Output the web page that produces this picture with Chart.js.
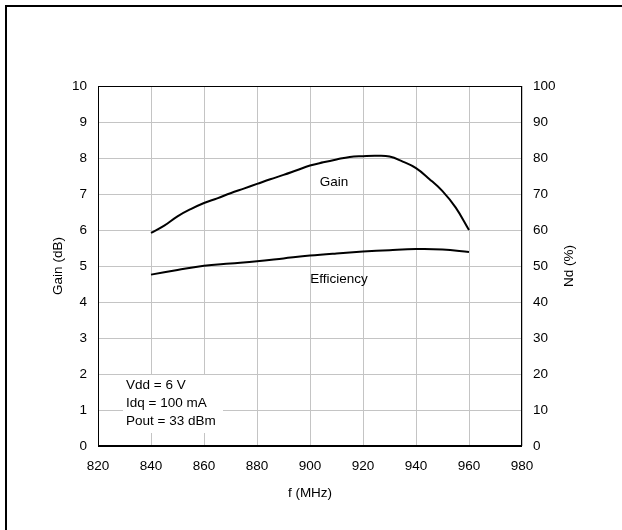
<!DOCTYPE html>
<html lang="en">
<head>
    <meta charset="UTF-8">
    <title>Gain and Efficiency vs Frequency</title>
    <script src="https://cdn.jsdelivr.net/npm/chart.js"></script>
    <style>
        body { margin: 0; background: #fff; }
        #wrap { position: relative; width: 622px; height: 530px; }
        #frame { position: absolute; left: 5px; top: 5px; right: 0; bottom: 0;
                 border-top: 2px solid #000; border-left: 2px solid #000; pointer-events: none; }
        canvas { position: absolute; left: 0; top: 0; }
    </style>
</head>
<body>
    <div id="wrap">
        <canvas id="gainChart" width="622" height="530"></canvas>
        <div id="frame"></div>
    </div>
    <script>
        // frequency in MHz
        const gainFreq = [840, 845, 850, 855, 860, 865, 870, 875, 880, 885, 890, 895, 900,
                          905, 910, 915, 920, 925, 930, 935, 940, 945, 950, 955, 960];
        const gainDb = [5.92, 6.12, 6.38, 6.58, 6.75, 6.88, 7.02, 7.15, 7.28, 7.41, 7.53, 7.66, 7.79,
                        7.88, 7.96, 8.03, 8.05, 8.06, 8.04, 7.90, 7.72, 7.42, 7.08, 6.62, 6.00];
        const effFreq = [840, 850, 860, 870, 880, 890, 900, 910, 920, 930, 940, 950, 960];
        const effPct = [47.6, 48.9, 50.1, 50.7, 51.3, 52.1, 52.9, 53.5, 54.0, 54.4, 54.7, 54.6, 53.9];
        const conditions = ['Vdd = 6 V', 'Idq = 100 mA', 'Pout = 33 dBm'];

        const FONT = '"Liberation Sans", Arial, sans-serif';
        const FS = 13.5;

        // labels, axis titles and the plot frame
        const extras = {
            id: 'extras',
            afterDraw(chart) {
                const ctx = chart.ctx;
                const a = chart.chartArea;
                ctx.save();
                ctx.strokeStyle = '#000';
                ctx.lineWidth = 1;
                ctx.strokeRect(a.left + 0.5, a.top + 0.5, a.right - a.left - 1, a.bottom - a.top);
                ctx.lineWidth = 2;
                ctx.beginPath();
                ctx.moveTo(a.left, a.bottom);
                ctx.lineTo(a.right, a.bottom);
                ctx.stroke();

                ctx.font = FS + 'px ' + FONT;
                ctx.fillStyle = '#000';
                ctx.textBaseline = 'middle';

                // conditions box
                ctx.fillStyle = '#fff';
                ctx.fillRect(123, 375, 100, 58);
                ctx.fillStyle = '#000';
                ctx.textAlign = 'left';
                conditions.forEach((t, i) => ctx.fillText(t, 126, 385 + i * 18.3));

                ctx.textAlign = 'center';
                ctx.fillText('Gain', 334, 182);
                ctx.fillText('Efficiency', 339, 279);
                ctx.fillText('f (MHz)', (a.left + a.right) / 2, 493);

                const mid = (a.top + a.bottom) / 2;
                [[58, 'Gain (dB)'], [569, 'Nd (%)']].forEach(([x, t]) => {
                    ctx.save();
                    ctx.translate(x, mid);
                    ctx.rotate(-Math.PI / 2);
                    ctx.fillText(t, 0, 0);
                    ctx.restore();
                });
                ctx.restore();
            }
        };

        new Chart(document.getElementById('gainChart').getContext('2d'), {
            type: 'line',
            data: {
                datasets: [{
                    label: 'Gain',
                    data: gainFreq.map((f, i) => ({ x: f, y: gainDb[i] })),
                    borderColor: '#000',
                    borderWidth: 2,
                    pointRadius: 0,
                    tension: 0.4,
                    yAxisID: 'y'
                }, {
                    label: 'Efficiency',
                    data: effFreq.map((f, i) => ({ x: f, y: effPct[i] })),
                    borderColor: '#000',
                    borderWidth: 2,
                    pointRadius: 0,
                    tension: 0.4,
                    yAxisID: 'y2'
                }]
            },
            options: {
                responsive: false,
                animation: false,
                devicePixelRatio: 1,
                layout: { padding: { top: 86, left: 0, right: 0, bottom: 0 } },
                plugins: { legend: { display: false }, tooltip: { enabled: false } },
                scales: {
                    x: {
                        type: 'linear',
                        min: 820, max: 980,
                        ticks: { stepSize: 20, color: '#000', padding: 12, font: { family: FONT, size: FS } },
                        grid: { color: '#c4c4c4', drawTicks: false },
                        border: { display: false },
                        afterFit: s => { s.height = 84; }
                    },
                    y: {
                        position: 'left',
                        min: 0, max: 10,
                        ticks: { stepSize: 1, color: '#000', padding: 11, font: { family: FONT, size: FS } },
                        grid: { color: '#c4c4c4', drawTicks: false },
                        border: { display: false },
                        afterFit: s => { s.width = 98; }
                    },
                    y2: {
                        position: 'right',
                        min: 0, max: 100,
                        ticks: { stepSize: 10, color: '#000', padding: 11, font: { family: FONT, size: FS } },
                        grid: { display: false, drawTicks: false },
                        border: { display: false },
                        afterFit: s => { s.width = 100; }
                    }
                }
            },
            plugins: [extras]
        });
    </script>
</body>
</html>
